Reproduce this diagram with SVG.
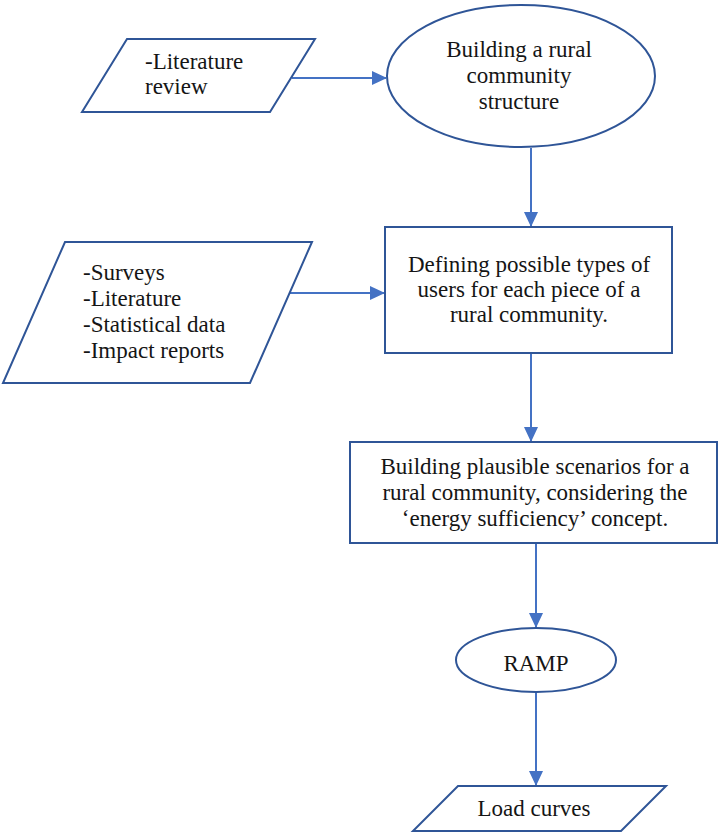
<svg xmlns="http://www.w3.org/2000/svg" width="722" height="832" viewBox="0 0 722 832">
<defs>
<style>
.shape{fill:#ffffff;stroke:#2F5597;stroke-width:2}
.conn{fill:none;stroke:#4472C4;stroke-width:2}
text{font-family:"Liberation Serif","Times New Roman",serif;font-size:23px;fill:#151515}
.c{text-anchor:middle}
</style>
<marker id="ah" markerUnits="userSpaceOnUse" markerWidth="15" markerHeight="14" viewBox="0 0 15 14" refX="14" refY="7" orient="auto">
<path d="M0,0 L15,7 L0,14 Z" fill="#4472C4"/>
</marker>
</defs>
<rect width="722" height="832" fill="#ffffff"/>
<g id="connectors">
<line class="conn" x1="292" y1="78" x2="386" y2="78" marker-end="url(#ah)"/>
<line class="conn" x1="531" y1="148" x2="531" y2="226" marker-end="url(#ah)"/>
<line class="conn" x1="290" y1="293" x2="384" y2="293" marker-end="url(#ah)"/>
<line class="conn" x1="531" y1="354" x2="531" y2="441" marker-end="url(#ah)"/>
<line class="conn" x1="536" y1="544" x2="536" y2="627" marker-end="url(#ah)"/>
<line class="conn" x1="536" y1="693" x2="536" y2="785" marker-end="url(#ah)"/>
</g>
<g id="lit-review">
<polygon class="shape" points="127,39 315,39 270,112 82,112"/>
<text x="145" y="69">-Literature</text>
<text x="145" y="94">review</text>
</g>
<g id="rural-structure">
<ellipse class="shape" cx="521" cy="76" rx="134" ry="71"/>
<text class="c" x="519" y="57">Building a rural</text>
<text class="c" x="519" y="83">community</text>
<text class="c" x="519" y="109">structure</text>
</g>
<g id="sources">
<polygon class="shape" points="65,242 312,242 250,383 3,383"/>
<text x="83" y="280">-Surveys</text>
<text x="83" y="306">-Literature</text>
<text x="83" y="332">-Statistical data</text>
<text x="83" y="358">-Impact reports</text>
</g>
<g id="user-types">
<rect class="shape" x="385" y="227" width="287" height="126"/>
<text class="c" x="529" y="272">Defining possible types of</text>
<text class="c" x="529" y="297">users for each piece of a</text>
<text class="c" x="529" y="322">rural community.</text>
</g>
<g id="scenarios">
<rect class="shape" x="350" y="442" width="367" height="101"/>
<text class="c" x="535" y="474">Building plausible scenarios for a</text>
<text class="c" x="535" y="500">rural community, considering the</text>
<text class="c" x="535" y="526">‘energy sufficiency’ concept.</text>
</g>
<g id="ramp">
<ellipse class="shape" cx="536" cy="660" rx="80" ry="32"/>
<text class="c" x="536" y="671">RAMP</text>
</g>
<g id="load-curves">
<polygon class="shape" points="458,786 666,786 621,831 413,831"/>
<text class="c" x="534" y="816">Load curves</text>
</g>
</svg>
